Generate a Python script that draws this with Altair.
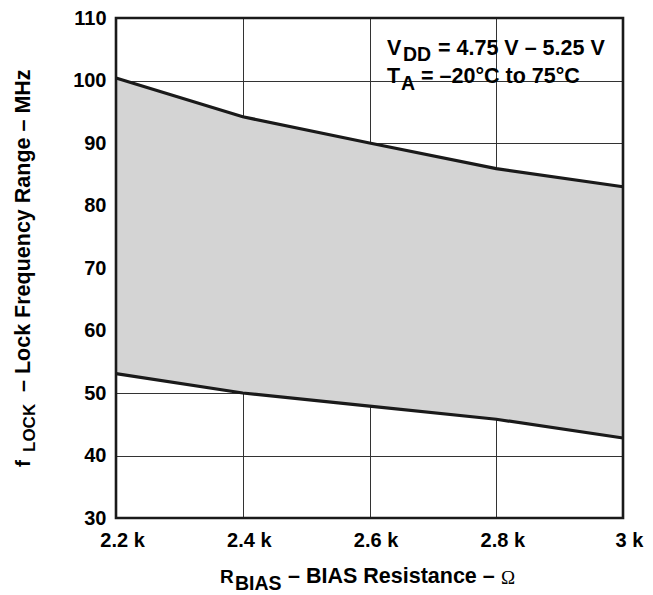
import altair as alt
import pandas as pd

# ---- data ----
r_bias_k = [2.2, 2.4, 2.6, 2.8, 3.0]          # R_BIAS in kΩ
f_upper = [100.4, 94.2, 90.0, 85.9, 83.0]     # upper lock limit, MHz
f_lower = [53.1, 50.0, 47.9, 45.8, 42.8]      # lower lock limit, MHz
x_ticks = [2.2, 2.4, 2.6, 2.8, 3.0]
y_ticks = [30, 40, 50, 60, 70, 80, 90, 100, 110]

W, H = 507, 500
FONT = "Liberation Sans"

df = pd.DataFrame({"r": r_bias_k, "upper": f_upper, "lower": f_lower})
long = df.melt("r", value_vars=["upper", "lower"], var_name="edge", value_name="f")
one = pd.DataFrame({"k": [0]})

xs = alt.Scale(domain=[2.2, 3.0], nice=False, zero=False)
ys = alt.Scale(domain=[30, 110], nice=False, zero=False)

common_axis = dict(grid=True, gridColor="#333333", gridWidth=1, domain=False,
                   ticks=False, tickSize=0, labelFont=FONT, labelFontWeight="bold",
                   labelFontSize=20, labelColor="black", labelFlush=False,
                   labelOverlap=False, title=None)
x_axis = alt.Axis(values=x_ticks, labelExpr="datum.value + ' k'",
                  labelPadding=12, labelOffset=6, **common_axis)
y_axis = alt.Axis(values=y_ticks, labelPadding=10, **common_axis)

area = alt.Chart(df).mark_area(color="#d4d4d4", opacity=1).encode(
    x=alt.X("r:Q", scale=xs, axis=x_axis),
    y=alt.Y("lower:Q", scale=ys, axis=y_axis),
    y2="upper:Q",
)

lines = alt.Chart(long).mark_line(color="#1a1a1a", strokeWidth=3.2).encode(
    x=alt.X("r:Q", scale=xs),
    y=alt.Y("f:Q", scale=ys),
    detail="edge:N",
)

border = alt.Chart(one).mark_rect(filled=False, stroke="#1a1a1a", strokeWidth=2.6).encode(
    x=alt.value(0), x2=alt.value(W), y=alt.value(0), y2=alt.value(H)
)


def txt(s, x, y, size=21, angle=0, font=FONT, weight="bold"):
    return alt.Chart(one).mark_text(
        text=s, align="left", baseline="middle", font=font, fontWeight=weight,
        fontSize=size, angle=angle, color="black"
    ).encode(x=alt.value(x), y=alt.value(y))


texts = [
    # annotation
    txt("V", 271, 31, 21.5),
    txt("DD", 287, 37, 19.5),
    txt("= 4.75 V – 5.25 V", 322, 31, 21.5),
    txt("T", 271, 59, 21.5),
    txt("A", 285, 66, 19.5),
    txt("= –20°C to 75°C", 305, 59, 21.5),
    # x title
    txt("R", 104, 559, 19),
    txt("BIAS", 119, 566, 19.5),
    txt("– BIAS Resistance –", 172, 559, 21.5),
    txt("Ω", 385, 559.5, 19, font="Liberation Serif", weight="normal"),
    # y title (rotated)
    txt("f", -92, 449, 21, angle=270),
    txt("LOCK", -86, 434, 17, angle=270),
    txt("– Lock Frequency Range – MHz", -92, 374, 21.5, angle=270),
]

chart = alt.layer(area, lines, border, *texts).properties(
    width=W, height=H,
    autosize=alt.AutoSizeParams(type="none"),
    padding={"left": 108, "top": 10, "right": 22, "bottom": 76},
).configure_view(stroke=None).configure(background="white")

chart.save("out.html", embed_options={"renderer": "svg", "actions": False})
